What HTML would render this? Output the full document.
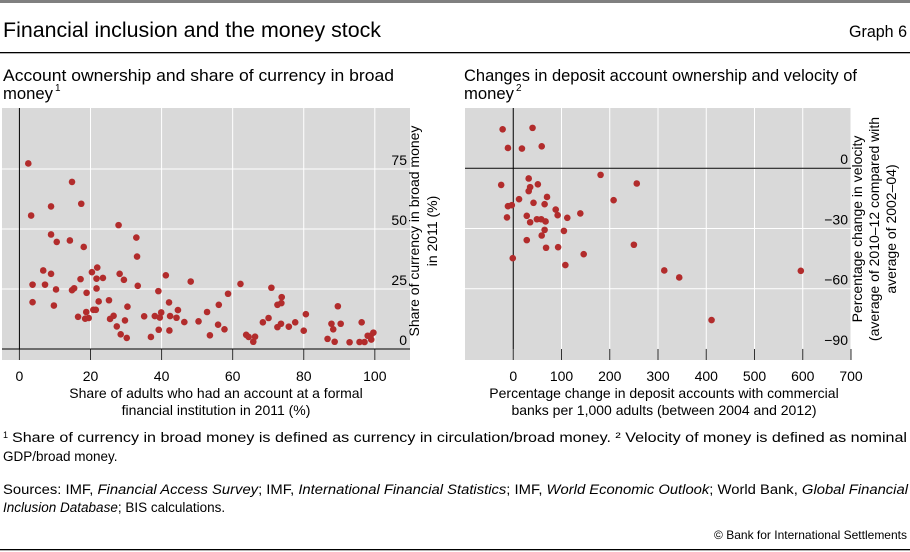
<!DOCTYPE html>
<html><head><meta charset="utf-8"><style>
body{margin:0;background:#fff;}
svg{display:block;font-family:"Liberation Sans",sans-serif;}
</style></head><body>
<svg id="c" width="910" height="552" viewBox="0 0 910 552">
<rect x="0" y="0" width="910" height="3" fill="#808080"/>
<text x="3" y="37" font-size="21" textLength="378" lengthAdjust="spacingAndGlyphs">Financial inclusion and the money stock</text>
<text x="907" y="37" font-size="17" text-anchor="end" textLength="58" lengthAdjust="spacingAndGlyphs">Graph 6</text>
<rect x="0" y="52" width="910" height="1.3" fill="#000"/>
<text x="3" y="81" font-size="17" textLength="391" lengthAdjust="spacingAndGlyphs">Account ownership and share of currency in broad</text>
<text x="3" y="99" font-size="17" textLength="50" lengthAdjust="spacingAndGlyphs">money</text>
<text x="55" y="91" font-size="10">1</text>
<text x="464" y="81" font-size="17" textLength="393" lengthAdjust="spacingAndGlyphs">Changes in deposit account ownership and velocity of</text>
<text x="464" y="99" font-size="17" textLength="50" lengthAdjust="spacingAndGlyphs">money</text>
<text x="516" y="91" font-size="10">2</text>
<g id="left"></g>
<g id="right"></g>
<text x="419" y="231" font-size="14" text-anchor="middle" transform="rotate(-90 419 231)">Share of currency in broad money</text>
<text x="437" y="231" font-size="14" text-anchor="middle" transform="rotate(-90 437 231)">in 2011 (%)</text>
<text x="862" y="229" font-size="14" text-anchor="middle" transform="rotate(-90 862 229)">Percentage change in velocity</text>
<text x="879" y="229" font-size="14" text-anchor="middle" transform="rotate(-90 879 229)">(average of 2010–12 compared with</text>
<text x="896" y="229" font-size="14" text-anchor="middle" transform="rotate(-90 896 229)">average of 2002–04)</text>
<text x="216" y="398" font-size="14" text-anchor="middle">Share of adults who had an account at a formal</text>
<text x="216" y="415" font-size="14" text-anchor="middle">financial institution in 2011 (%)</text>
<text x="664" y="398" font-size="14" text-anchor="middle">Percentage change in deposit accounts with commercial</text>
<text x="664" y="415" font-size="14" text-anchor="middle">banks per 1,000 adults (between 2004 and 2012)</text>
<g font-size="13.5">
<text x="3" y="438" font-size="9">1</text>
<text x="12" y="442" textLength="895" lengthAdjust="spacingAndGlyphs">Share of currency in broad money is defined as currency in circulation/broad money.   ² Velocity of money is defined as nominal</text>
<text x="3" y="461">GDP/broad money.</text>
<text x="3" y="494" textLength="905" lengthAdjust="spacingAndGlyphs">Sources: IMF, <tspan font-style="italic">Financial Access Survey</tspan>; IMF, <tspan font-style="italic">International Financial Statistics</tspan>; IMF, <tspan font-style="italic">World Economic Outlook</tspan>; World Bank, <tspan font-style="italic">Global Financial</tspan></text>
<text x="3" y="512"><tspan font-style="italic">Inclusion Database</tspan>; BIS calculations.</text>
<text x="907" y="539" font-size="12" text-anchor="end">© Bank for International Settlements</text>
</g>
<rect x="0" y="549" width="910" height="1.3" fill="#000"/>
</svg>
<script>
const NS='http://www.w3.org/2000/svg';
// left chart data
const leftX=[2.5,3.3,3.7,3.7,6.7,7.2,8.9,8.9,8.9,9.7,10.3,10.5,14.2,14.8,14.8,15.4,16.5,17.2,17.4,18.1,18.5,18.8,18.9,19.5,20.4,20.8,21.5,21.7,21.7,21.9,22.3,23.5,25.2,25.5,26.5,27.4,27.9,28.2,28.5,29.4,29.7,30.2,30.4,32.9,33.1,33.3,35.1,37,38.1,39.1,39.2,39.5,39.9,41.2,42.1,42.2,42.4,44.2,44.6,46.4,48.2,50.4,52.8,53.6,55.9,56.1,57.7,58.7,62.2,63.8,64.5,65.8,66.3,68.5,70.1,70.9,72.6,72.6,73.7,73.8,73.6,75.8,77.6,80,80.6,86.7,87.8,88.3,88.7,89.6,90.4,92.9,95.7,96.3,97.1,98,99,98.8,99.6];
const leftY=[77.3,55.6,26.8,19.5,32.7,26.8,59.4,47.7,31.3,18.1,24.8,44.6,45.2,69.6,24.5,25.3,13.4,29.1,60.5,42.5,12.6,15.4,23.4,12.9,32,16.3,16.3,29.3,25.2,33.9,19.8,29.6,20.3,12.5,13.8,9.4,51.6,31.3,6.1,28.8,11.9,4.6,17.6,46.4,38.5,26.3,13.6,5,13.7,24.1,8,13.1,15.2,30.7,19.4,7.7,13.7,13,16.2,11.2,28.1,11.5,15.4,5.7,10.1,18.4,8.2,23,27.1,5.9,5,3,5.1,11.1,12.9,25.5,18.4,9.1,19.1,21.6,10.5,9.3,11.1,7.6,14.5,4.2,10.5,8.2,3,17.8,10.5,2.8,2.9,11.1,2.9,5.5,3.9,5.5,6.8];
const leftXTicks=[0,20,40,60,80,100];
const leftYTicks=[0,25,50,75];
// right chart data
const rightX=[-22,40,-11,18,59,-25,32,51,35,32,12,42,70,65,-11,-3,-13,28,35,49,58,67,65,59,88,92,112,139,105,28,68,93,146,-1,108,181,256,208,250,313,344,596,411];
const rightY=[19.4,20.1,10.1,9.8,10.9,-8.3,-5.1,-8,-9.4,-11.4,-15.4,-17.2,-14.3,-17.9,-18.9,-18.4,-24.5,-23.7,-26.9,-25.4,-25.4,-26.5,-30.7,-33.5,-20.6,-23.4,-24.7,-22.5,-31.2,-35.8,-39.6,-39.3,-42.8,-44.8,-48.2,-3.3,-7.6,-15.9,-38.1,-50.9,-54.4,-51.1,-75.6];
const rightXTicks=[0,100,200,300,400,500,600,700];
const rightYTicks=[-90,-60,-30,0];

function el(tag,attrs,parent){const e=document.createElementNS(NS,tag);for(const k in attrs)e.setAttribute(k,attrs[k]);parent.appendChild(e);return e;}

function draw(g,cfg){
  const sx=v=>cfg.x0+(v-cfg.xmin)/(cfg.xmax-cfg.xmin)*(cfg.x1-cfg.x0);
  const sy=v=>cfg.y1-(v-cfg.ymin)/(cfg.ymax-cfg.ymin)*(cfg.y1-cfg.y0);
  const bg=el('rect',{x:cfg.x0,y:cfg.y0,width:cfg.x1-cfg.x0,height:cfg.y1-cfg.y0,fill:'#d9d9d9'},g);
  
  
  const axY=sy(cfg.axisYVal);
  cfg.xt.forEach(t=>{
    if(t===0)return;
    const l=el('line',{x1:sx(t),x2:sx(t),y1:cfg.y0,y2:axY,stroke:'#fff','stroke-width':1},g);
    
    
  });
  cfg.yt.forEach(t=>{
    if(t===cfg.axisYVal)return;
    const l=el('line',{x1:cfg.x0,x2:cfg.x1,y1:sy(t),y2:sy(t),stroke:'#fff','stroke-width':1},g);
    
    
  });
  cfg.xt.forEach(t=>{
    const l=el('line',{x1:sx(t),x2:sx(t),y1:axY,y2:cfg.y1,stroke:'#333','stroke-width':1},g);
    
    
    const tx=el('text',{x:sx(t),y:381,'font-size':14,'text-anchor':'middle'},g);
    tx.textContent=t;
    
    
  });
  cfg.yt.forEach(t=>{
    const tx=el('text',{x:cfg.x1-3,y:sy(t)-4,'font-size':14,'text-anchor':'end'},g);
    tx.textContent=(t<0?'\u2212'+(-t):t);
    
    
  });
  const va=el('line',{x1:sx(0),x2:sx(0),y1:cfg.y0,y2:axY,stroke:'#000','stroke-width':1},g);
  
  
  const ha=el('line',{x1:cfg.x0,x2:cfg.x1,y1:sy(0),y2:sy(0),stroke:'#000','stroke-width':1},g);
  
  
  cfg.xs.forEach((v,i)=>{
    const c=el('circle',{cx:sx(v),cy:sy(cfg.ys[i]),r:3.3,fill:'#b22c2c'},g);
    
    
  });
}
draw(document.getElementById('left'),{x0:2,x1:410,y0:108,y1:360,xmin:-4.9,xmax:109.9,ymin:-4.6,ymax:100.4,axisYVal:0,xt:leftXTicks,yt:leftYTicks,xs:leftX,ys:leftY});
draw(document.getElementById('right'),{x0:465,x1:851,y0:108,y1:360,xmin:-100,xmax:700,ymin:-95.5,ymax:30,axisYVal:-90,xt:rightXTicks,yt:rightYTicks,xs:rightX,ys:rightY});
</script>
</body></html>
